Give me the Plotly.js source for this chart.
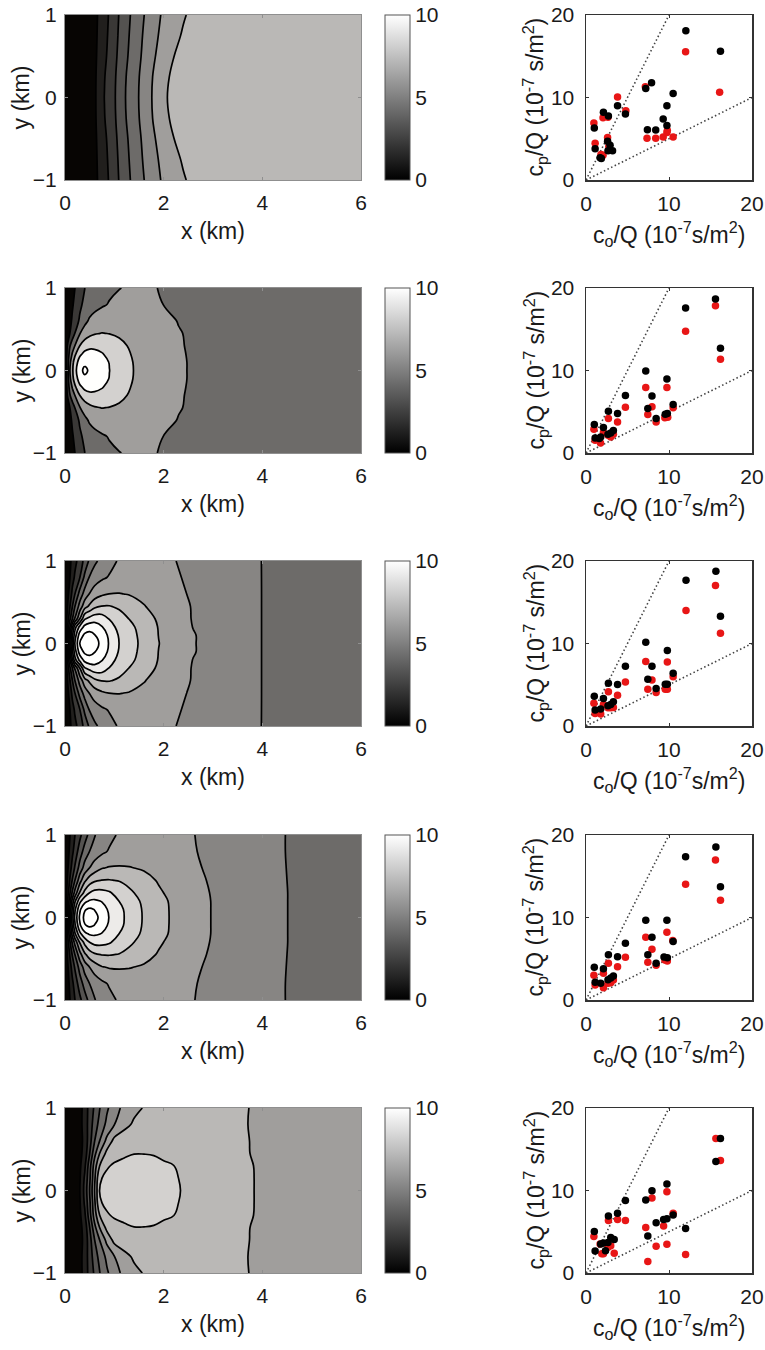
<!DOCTYPE html>
<html>
<head>
<meta charset="utf-8">
<script src="https://cdn.plot.ly/plotly-3.0.1.min.js"></script>
<style>
  html, body { margin: 0; padding: 0; background: #fff; }
  #fig { width: 765px; height: 1350px; }
</style>
</head>
<body>
<div id="fig"></div>
<script>
// ---------------------------------------------------------------
// Concentration fields (upper half, y >= 0; the fields are symmetric
// about y = 0) and observed vs. predicted concentrations.
// ---------------------------------------------------------------

// Panel 1
const p1X = [0, 0.4, 0.6, 0.8, 1.0, 1.2, 1.4, 1.6, 1.8, 2.0, 2.2, 2.4, 2.6, 3.0, 6.0];
const p1Y = [0, 0.25, 0.5, 0.75, 1];
const p1Rows = [
  [0, 0.45, 0.85, 2.02, 2.9, 3.9, 4.65, 5.4, 6.15, 6.85, 7.25, 7.4, 7.45, 7.5, 7.5],
  [0, 0.44, 0.84, 1.96, 2.86, 3.85, 4.61, 5.35, 6.09, 6.76, 7.18, 7.37, 7.44, 7.5, 7.5],
  [0, 0.42, 0.8, 1.8, 2.75, 3.7, 4.5, 5.2, 5.9, 6.5, 6.98, 7.3, 7.42, 7.5, 7.5],
  [0, 0.41, 0.77, 1.7, 2.66, 3.6, 4.4, 5.1, 5.75, 6.3, 6.75, 7.1, 7.3, 7.48, 7.5],
  [0, 0.4, 0.75, 1.6, 2.6, 3.5, 4.3, 4.98, 5.65, 6.15, 6.55, 6.92, 7.2, 7.45, 7.5]
];

// Panel 2
const p2X = [0, 0.05, 0.1, 0.15, 0.2, 0.3, 0.4, 0.5, 0.6, 0.75, 0.9, 1.1, 1.4, 1.7, 2.0, 2.3, 2.6, 3.0, 6.0];
const p2Y = [0, 0.1, 0.2, 0.3, 0.45, 0.6, 0.8, 1.0];
const p2Rows = [
  [0, 3.3, 6.02, 7.7, 9.3, 11.6, 12.3, 11.8, 11.3, 10.6, 10.02, 9.2, 7.95, 7.2, 6.6, 6.2, 5.85, 5.6, 5.5],
  [0, 3.0, 5.6, 7.4, 8.9, 10.9, 11.7, 11.5, 11.1, 10.5, 9.95, 9.15, 7.9, 7.2, 6.6, 6.2, 5.85, 5.6, 5.5],
  [0, 2.6, 4.8, 6.2, 7.6, 9.6, 10.5, 10.6, 10.45, 10.1, 9.6, 8.85, 7.75, 7.1, 6.55, 6.15, 5.85, 5.6, 5.5],
  [0, 2.1, 3.9, 5.1, 6.02, 8.02, 9.1, 9.6, 9.65, 9.5, 9.1, 8.5, 7.55, 7.0, 6.5, 6.1, 5.85, 5.6, 5.5],
  [0, 1.1, 2.02, 3.0, 4.02, 5.9, 6.9, 7.5, 7.85, 8.05, 7.95, 7.7, 7.2, 6.8, 6.4, 6.08, 5.8, 5.6, 5.5],
  [0, 0.8, 1.5, 2.3, 3.0, 4.3, 5.5, 6.3, 6.7, 7.0, 7.15, 7.2, 7.1, 6.75, 6.35, 5.95, 5.75, 5.6, 5.5],
  [0, 0.6, 1.2, 1.8, 2.4, 3.6, 4.5, 5.0, 5.4, 5.8, 6.1, 6.45, 6.6, 6.45, 5.98, 5.7, 5.6, 5.55, 5.5],
  [0, 0.5, 1.0, 1.5, 1.98, 3.0, 3.98, 4.6, 5.0, 5.4, 5.7, 5.95, 6.3, 6.2, 5.85, 5.65, 5.55, 5.5, 5.5]
];

// Panel 3
const p3X = [0, 0.05, 0.1, 0.15, 0.2, 0.3, 0.4, 0.5, 0.6, 0.75, 0.9, 1.1, 1.3, 1.6, 1.9, 2.2, 2.6, 3.0, 3.5, 4.0, 4.5, 6.0];
const p3Y = [0, 0.1, 0.2, 0.3, 0.45, 0.6, 0.8, 1.0];
const p3Rows = [
  [0, 2.5, 5.02, 7.3, 9.02, 11.02, 11.7, 11.75, 11.4, 10.7, 9.9, 8.98, 8.45, 7.7, 7.02, 6.55, 6.05, 5.7, 5.3, 4.99, 4.8, 4.6],
  [0, 2.3, 4.6, 6.8, 8.5, 10.5, 11.2, 11.3, 11.05, 10.5, 9.8, 8.9, 8.4, 7.65, 6.98, 6.5, 6.05, 5.7, 5.3, 4.99, 4.8, 4.6],
  [0, 2.02, 3.98, 5.9, 7.6, 9.3, 10.3, 10.6, 10.5, 10.05, 9.4, 8.7, 8.25, 7.6, 6.95, 6.45, 5.98, 5.7, 5.3, 4.99, 4.8, 4.6],
  [0, 1.4, 2.8, 3.98, 5.1, 6.98, 8.9, 9.3, 9.6, 9.5, 8.95, 8.4, 7.98, 7.45, 6.85, 6.4, 5.95, 5.65, 5.3, 4.99, 4.8, 4.6],
  [0, 0.98, 1.98, 2.98, 3.98, 5.4, 6.6, 7.2, 7.75, 8.05, 8.05, 7.85, 7.55, 7.05, 6.65, 6.3, 5.95, 5.65, 5.3, 4.99, 4.8, 4.6],
  [0, 0.7, 1.4, 2.3, 2.98, 4.4, 5.4, 6.05, 6.5, 6.85, 7.02, 7.04, 6.95, 6.75, 6.5, 6.2, 5.9, 5.65, 5.3, 4.99, 4.8, 4.6],
  [0, 0.5, 0.98, 1.6, 2.15, 2.98, 4.25, 5.1, 5.5, 5.85, 6.08, 6.3, 6.4, 6.4, 6.3, 6.1, 5.85, 5.6, 5.28, 4.99, 4.8, 4.6],
  [0, 0.4, 0.85, 1.25, 1.7, 2.45, 3.3, 4.2, 4.8, 5.3, 5.7, 6.1, 6.3, 6.35, 6.25, 6.03, 5.8, 5.55, 5.25, 4.99, 4.8, 4.6]
];

// Panel 4
const p4X = [0, 0.05, 0.1, 0.15, 0.2, 0.3, 0.4, 0.5, 0.6, 0.75, 0.9, 1.1, 1.3, 1.6, 1.9, 2.2, 2.6, 3.0, 3.5, 4.0, 4.4, 4.8, 6.0];
const p4Y = [0, 0.1, 0.2, 0.3, 0.45, 0.6, 0.8, 1.0];
const p4Rows = [
  [0, 2.3, 4.6, 6.6, 8.2, 10.2, 11.3, 11.7, 11.35, 10.6, 9.95, 9.3, 8.7, 7.9, 7.35, 6.85, 6.4, 5.95, 5.6, 5.3, 5.06, 4.85, 4.6],
  [0, 2.2, 4.3, 6.2, 7.8, 9.8, 10.9, 11.15, 10.95, 10.35, 9.85, 9.25, 8.65, 7.88, 7.33, 6.85, 6.4, 5.95, 5.6, 5.3, 5.06, 4.85, 4.6],
  [0, 1.9, 3.7, 5.4, 6.8, 8.7, 9.7, 10.1, 10.15, 9.95, 9.5, 8.98, 8.5, 7.8, 7.3, 6.82, 6.38, 5.95, 5.6, 5.3, 5.06, 4.85, 4.6],
  [0, 1.5, 2.9, 4.2, 5.3, 7.1, 8.3, 9.02, 9.3, 9.3, 9.1, 8.6, 8.2, 7.6, 7.12, 6.75, 6.33, 5.93, 5.58, 5.3, 5.06, 4.85, 4.6],
  [0, 1.1, 2.1, 3.1, 3.98, 5.6, 6.8, 7.5, 7.85, 8.03, 8.05, 7.95, 7.7, 7.3, 6.92, 6.6, 6.2, 5.9, 5.55, 5.28, 5.05, 4.85, 4.6],
  [0, 0.8, 1.6, 2.4, 3.1, 4.4, 5.4, 6.02, 6.5, 6.95, 7.08, 7.1, 7.05, 6.9, 6.65, 6.42, 6.12, 5.85, 5.52, 5.25, 5.04, 4.85, 4.6],
  [0, 0.6, 1.2, 1.8, 2.4, 3.5, 4.4, 5.02, 5.4, 5.8, 6.1, 6.35, 6.45, 6.5, 6.42, 6.28, 6.05, 5.8, 5.5, 5.23, 5.03, 4.85, 4.6],
  [0, 0.5, 0.98, 1.5, 1.98, 2.75, 3.55, 4.3, 4.95, 5.4, 5.75, 6.12, 6.3, 6.4, 6.35, 6.22, 6.02, 5.78, 5.48, 5.22, 5.03, 4.85, 4.6]
];

// Panel 5
const p5X = [0, 0.1, 0.2, 0.3, 0.4, 0.5, 0.6, 0.7, 0.85, 1.0, 1.2, 1.4, 1.6, 1.8, 2.0, 2.2, 2.4, 2.7, 3.0, 3.5, 4.0, 4.5, 6.0];
const p5Y = [0, 0.15, 0.3, 0.45, 0.6, 0.8, 1.0];
const p5Rows = [
  [0, 0.2, 0.5, 0.98, 2.3, 4.02, 6.02, 8.02, 8.25, 8.35, 8.45, 8.5, 8.5, 8.42, 8.3, 8.12, 7.95, 7.7, 7.5, 7.2, 6.9, 6.7, 6.5],
  [0, 0.2, 0.5, 0.9, 2.15, 3.8, 5.8, 7.9, 8.2, 8.3, 8.4, 8.45, 8.45, 8.38, 8.25, 8.08, 7.92, 7.7, 7.5, 7.2, 6.9, 6.7, 6.5],
  [0, 0.18, 0.45, 0.8, 1.8, 3.6, 5.5, 6.98, 7.9, 8.12, 8.25, 8.3, 8.3, 8.22, 8.1, 8.01, 7.85, 7.65, 7.47, 7.18, 6.9, 6.7, 6.5],
  [0, 0.15, 0.4, 0.7, 1.4, 2.98, 4.7, 5.98, 7.3, 7.65, 7.85, 7.98, 7.98, 7.95, 7.85, 7.75, 7.65, 7.52, 7.38, 7.12, 6.88, 6.7, 6.5],
  [0, 0.12, 0.35, 0.65, 1.3, 2.6, 3.98, 4.98, 6.3, 7.3, 7.6, 7.7, 7.72, 7.7, 7.65, 7.6, 7.52, 7.42, 7.3, 7.12, 6.87, 6.68, 6.5],
  [0, 0.12, 0.35, 0.65, 1.45, 2.45, 3.5, 4.3, 5.25, 5.98, 6.7, 7.15, 7.35, 7.42, 7.43, 7.42, 7.38, 7.32, 7.22, 7.1, 6.86, 6.67, 6.5],
  [0, 0.12, 0.35, 0.65, 1.4, 2.4, 3.15, 3.95, 4.85, 5.55, 6.3, 6.75, 7.05, 7.2, 7.28, 7.3, 7.3, 7.27, 7.2, 7.1, 6.88, 6.7, 6.5]
];

// Contour levels per panel: [first level, last level, spacing]
const levelSets = [[1, 7, 1], [2, 12, 2], [1, 11, 1], [1, 11, 1], [1, 8, 1]];

// Observed (c_o/Q) vs predicted (c_p/Q), units of 1e-7 s/m^2, one list per row
const blackObs = [
  [12.03, 16.2, 7.2, 7.9, 10.5, 3.8, 4.75, 2.1, 2.7, 1.0, 9.75, 9.3, 9.75, 7.4, 8.4, 1.1, 2.6, 2.9, 2.65, 3.2, 1.7, 1.85],
  [15.6, 12.0, 16.2, 7.2, 9.75, 4.75, 7.95, 7.45, 10.5, 2.7, 3.8, 8.45, 9.55, 9.8, 1.0, 2.1, 1.1, 1.77, 2.65, 2.98, 3.3, 1.6],
  [15.65, 12.05, 16.2, 7.2, 9.8, 4.75, 7.95, 7.45, 10.5, 2.7, 3.8, 8.45, 9.55, 9.8, 1.0, 2.1, 1.1, 1.77, 2.65, 2.98, 3.3],
  [15.65, 12.0, 16.2, 7.2, 9.75, 4.75, 7.95, 7.45, 10.5, 2.7, 3.8, 8.45, 9.4, 9.8, 1.0, 2.1, 1.1, 1.77, 2.65, 2.98, 3.3],
  [16.2, 15.65, 9.75, 7.95, 7.2, 4.75, 3.8, 2.7, 10.5, 9.35, 9.75, 8.45, 12.0, 7.45, 1.0, 1.1, 1.77, 2.1, 2.65, 2.98, 3.4, 2.35]
];
const blackPred = [
  [18.1, 15.6, 11.1, 11.8, 10.5, 9.0, 8.0, 8.2, 7.75, 6.3, 9.0, 7.4, 6.6, 6.1, 6.05, 3.8, 4.7, 4.2, 3.55, 3.55, 2.7, 2.6],
  [18.66, 17.57, 12.7, 9.94, 8.97, 6.98, 6.9, 5.4, 5.88, 5.07, 4.8, 4.18, 4.7, 4.8, 3.45, 3.08, 1.83, 1.95, 2.27, 2.43, 2.72, 1.75],
  [18.76, 17.67, 13.3, 10.16, 9.16, 7.23, 7.23, 5.66, 6.39, 5.18, 5.02, 4.54, 5.06, 5.06, 3.61, 3.33, 1.93, 2.05, 2.45, 2.61, 2.93],
  [18.55, 17.37, 13.74, 9.66, 9.66, 6.87, 7.6, 5.5, 7.1, 5.5, 5.25, 4.44, 5.21, 5.13, 3.96, 3.8, 2.14, 2.02, 2.46, 2.67, 2.91],
  [16.29, 13.53, 10.78, 9.98, 8.86, 8.78, 7.23, 6.91, 7.03, 6.47, 6.59, 6.1, 5.39, 4.47, 5.03, 2.67, 3.51, 3.63, 3.71, 4.31, 4.07, 2.71]
];
const redObs = [
  [12.0, 16.1, 7.15, 3.8, 4.8, 2.05, 2.65, 0.95, 7.35, 8.4, 9.3, 9.75, 9.8, 10.5, 1.1, 2.6, 2.75, 1.8, 2.05],
  [15.6, 12.0, 16.2, 7.2, 9.75, 4.75, 7.95, 7.45, 10.5, 8.45, 9.5, 9.85, 2.7, 3.8, 0.95, 2.1, 1.1, 1.75, 2.65, 2.98, 3.3],
  [15.6, 12.05, 16.2, 7.2, 9.8, 4.75, 7.95, 7.45, 10.5, 8.45, 9.55, 9.8, 2.7, 3.8, 0.95, 2.1, 1.1, 1.77, 2.65, 2.98, 3.3],
  [15.6, 12.0, 16.2, 7.2, 9.75, 4.75, 7.95, 7.45, 10.45, 8.45, 9.5, 9.8, 2.7, 3.8, 0.95, 2.1, 1.1, 2.1, 2.65, 2.98, 3.3],
  [15.65, 16.2, 9.75, 7.95, 7.2, 4.75, 3.8, 2.7, 10.5, 9.35, 9.75, 8.45, 12.0, 7.45, 0.95, 1.7, 1.9, 2.1, 2.65, 2.98, 3.4]
];
const redPred = [
  [15.55, 10.65, 11.3, 10.05, 8.4, 7.55, 7.6, 6.9, 5.05, 5.05, 5.2, 5.75, 6.0, 5.2, 4.45, 5.15, 4.05, 3.1, 3.0],
  [17.85, 14.77, 11.36, 7.95, 7.95, 5.56, 5.6, 4.67, 5.48, 3.77, 4.26, 4.34, 4.18, 3.77, 2.88, 2.47, 1.54, 1.22, 2.15, 1.95, 2.27],
  [17.03, 14.0, 11.24, 7.83, 7.75, 5.34, 5.58, 4.46, 5.98, 4.06, 4.46, 4.46, 4.14, 3.73, 2.77, 2.61, 1.53, 1.45, 2.21, 2.21, 2.25],
  [16.97, 14.02, 12.08, 7.6, 8.2, 5.17, 6.14, 4.57, 7.2, 4.2, 4.85, 4.73, 4.44, 4.04, 2.99, 3.23, 1.82, 1.5, 2.02, 2.1, 2.42],
  [16.29, 13.65, 9.86, 9.1, 5.51, 6.35, 6.47, 6.35, 7.23, 5.71, 3.47, 3.23, 2.24, 1.4, 4.43, 3.51, 2.32, 2.32, 3.11, 3.31, 2.4]
];

// Reference ratio lines (predicted = ratio * observed)
const ratioLines = [2, 0.5];
const ratioX = [0, 20];

// Axis ticks and labels
const fieldXTicks = [0, 2, 4, 6];
const fieldYTicks = [-1, 0, 1];
const scatTicks = [0, 10, 20];
const barTicks = [0, 5, 10];

// ---------------------------------------------------------------
const W = 765, H = 1350;
const rowTops = [15, 288, 561, 835, 1108];
const rowH = 165;
const FONT = 'Arial, "Liberation Sans", sans-serif';
const TXT = '#1a1a1a';
const fs = 21;     // tick labels
const fsT = 23;    // axis titles

function gray(v) {
  const g = Math.round(Math.max(0, Math.min(1, v)) * 255);
  return `rgb(${Math.min(255, g + 2)},${g},${Math.max(0, g - 2)})`;
}

// Filled band above level L is painted in gray (L + 0.2) / 10
function bandScale(start, end, size) {
  const nc = Math.floor((end - start) / size + 1e-9) + 1;
  const stops = [];
  for (let k = 0; k <= nc; k++) {
    const lower = start - size + k * size;
    stops.push([k / nc, gray((lower + 0.2) / 10)]);
  }
  return stops;
}

// Build the full symmetric grid from the y >= 0 rows
function mirror(ys, rows) {
  const yFull = ys.slice(1).map(v => -v).reverse().concat(ys);
  const zFull = rows.slice(1).slice().reverse().concat(rows);
  return { y: yFull, z: zFull };
}

const fields = [
  [p1X, p1Y, p1Rows], [p2X, p2Y, p2Rows], [p3X, p3Y, p3Rows],
  [p4X, p4Y, p4Rows], [p5X, p5Y, p5Rows]
];

const traces = [];
const layout = {
  width: W, height: H,
  margin: { l: 0, r: 0, t: 0, b: 0 },
  paper_bgcolor: '#fff', plot_bgcolor: '#fff',
  showlegend: false,
  font: { family: FONT, size: fs, color: TXT },
  annotations: []
};

function dom(top) { return [1 - (top + rowH) / H, 1 - top / H]; }

rowTops.forEach((top, i) => {
  const cx = 2 * i + 1, sx = 2 * i + 2;
  const [fx, fy, frows] = fields[i];
  const g = mirror(fy, frows);
  const [lv0, lv1, lvs] = levelSets[i];

  traces.push({
    type: 'contour', x: fx, y: g.y, z: g.z,
    xaxis: 'x' + cx, yaxis: 'y' + cx,
    autocontour: false,
    contours: { start: lv0, end: lv1, size: lvs, coloring: 'fill', showlines: true },
    line: { color: '#000', width: 1.7, smoothing: 1.2 },
    colorscale: bandScale(lv0, lv1, lvs),
    showscale: false, hoverinfo: 'skip'
  });

  // continuous gray colour bar, 0 to 10
  traces.push({
    type: 'scatter', mode: 'markers', x: [3], y: [0],
    xaxis: 'x' + cx, yaxis: 'y' + cx,
    hoverinfo: 'skip',
    marker: {
      size: 0.1, opacity: 0, color: [5], cmin: 0, cmax: 10,
      colorscale: [[0, 'rgb(0,0,0)'], [1, 'rgb(255,255,255)']],
      showscale: true,
      colorbar: {
        x: 385 / W, xanchor: 'left', xpad: 0,
        y: 1 - top / H, yanchor: 'top', ypad: 0,
        len: rowH, lenmode: 'pixels',
        thickness: 25, thicknessmode: 'pixels',
        outlinewidth: 1, outlinecolor: '#555',
        tickvals: barTicks, ticks: '',
        tickfont: { family: FONT, size: fs, color: TXT }
      }
    }
  });

  // ratio lines
  ratioLines.forEach(r => {
    traces.push({
      type: 'scatter', mode: 'lines', x: ratioX, y: ratioX.map(v => v * r),
      xaxis: 'x' + sx, yaxis: 'y' + sx, hoverinfo: 'skip',
      line: { color: '#444', width: 1.6, dash: '1.5px,2.5px' }
    });
  });
  traces.push({
    type: 'scatter', mode: 'markers', x: redObs[i], y: redPred[i],
    xaxis: 'x' + sx, yaxis: 'y' + sx, cliponaxis: true,
    marker: { color: 'rgb(232,22,22)', size: 7.5 }
  });
  traces.push({
    type: 'scatter', mode: 'markers', x: blackObs[i], y: blackPred[i],
    xaxis: 'x' + sx, yaxis: 'y' + sx, cliponaxis: true,
    marker: { color: '#000', size: 7.5 }
  });

  const common = {
    showgrid: false, zeroline: false, showline: true, mirror: 'ticks',
    ticks: 'inside', ticklen: 3, fixedrange: true,
    tickfont: { family: FONT, size: fs, color: TXT }
  };
  layout['xaxis' + cx] = Object.assign({}, common, {
    domain: [65 / W, 361 / W], anchor: 'y' + cx, range: [0, 6],
    tickvals: fieldXTicks, linecolor: '#8f8f8f', tickcolor: '#8f8f8f', linewidth: 1,
    ticklabelstandoff: 4
  });
  layout['yaxis' + cx] = Object.assign({}, common, {
    domain: dom(top), anchor: 'x' + cx, range: [-1, 1],
    tickvals: fieldYTicks, linecolor: '#8f8f8f', tickcolor: '#8f8f8f', linewidth: 1,
    ticklabelstandoff: 3
  });
  layout['xaxis' + sx] = Object.assign({}, common, {
    domain: [586 / W, 752 / W], anchor: 'y' + sx, range: [0, 20],
    tickvals: scatTicks, linecolor: '#333', tickcolor: '#333', linewidth: 1.5,
    ticklabelstandoff: 4
  });
  layout['yaxis' + sx] = Object.assign({}, common, {
    domain: dom(top), anchor: 'x' + sx, range: [0, 20],
    tickvals: scatTicks, linecolor: '#333', tickcolor: '#333', linewidth: 1.5,
    ticklabelstandoff: 6
  });

  const mid = 1 - (top + rowH / 2) / H;
  const tf = { family: FONT, size: fsT, color: TXT };
  layout.annotations.push(
    { xref: 'paper', yref: 'paper', x: 21 / W, y: mid, text: 'y (km)', textangle: -90,
      showarrow: false, xanchor: 'center', yanchor: 'middle', font: tf },
    { xref: 'paper', yref: 'paper', x: 213 / W, y: 1 - (top + rowH + 51) / H, text: 'x (km)',
      showarrow: false, xanchor: 'center', yanchor: 'middle', font: tf },
    { xref: 'paper', yref: 'paper', x: 535 / W, y: mid,
      text: 'c<sub>p</sub>/Q (10<sup>-7</sup> s/m<sup>2</sup>)', textangle: -90,
      showarrow: false, xanchor: 'center', yanchor: 'middle', font: tf },
    { xref: 'paper', yref: 'paper', x: 669 / W, y: 1 - (top + rowH + 54) / H,
      text: 'c<sub>o</sub>/Q (10<sup>-7</sup>s/m<sup>2</sup>)',
      showarrow: false, xanchor: 'center', yanchor: 'middle', font: tf }
  );
});

Plotly.newPlot('fig', traces, layout, { staticPlot: true, displayModeBar: false });
</script>
</body>
</html>
